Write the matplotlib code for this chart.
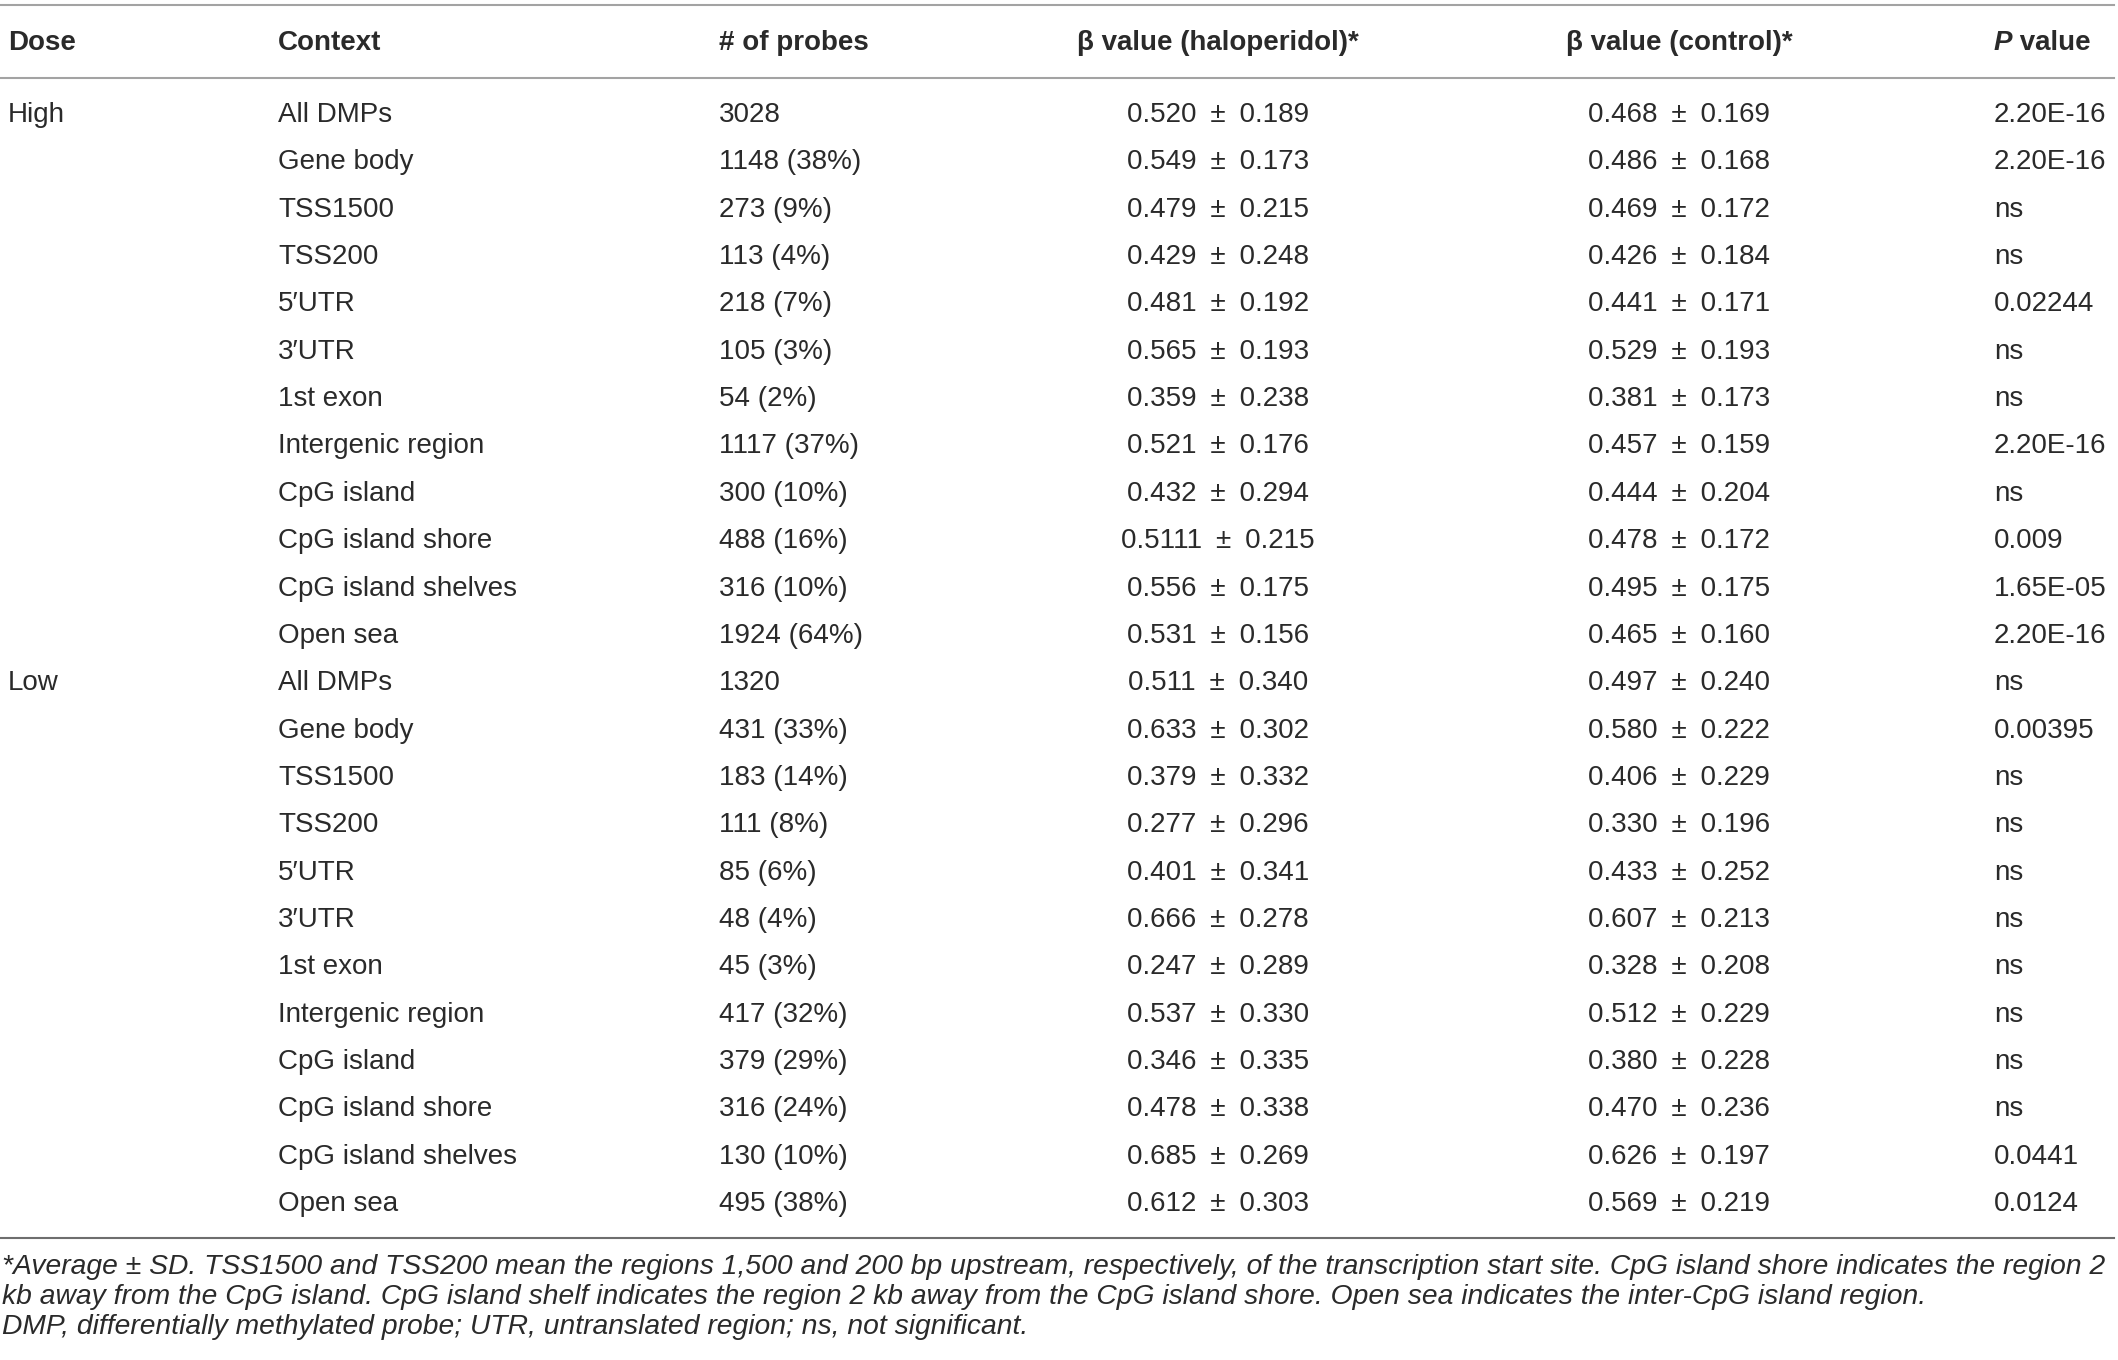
import matplotlib
matplotlib.use("Agg")
import matplotlib.pyplot as plt

# ---------------- data ----------------
headers = ["Dose", "Context", "# of probes", "\u03b2 value (haloperidol)*", "\u03b2 value (control)*"]
doses = ["High", "Low"]
contexts = ["All DMPs", "Gene body", "TSS1500", "TSS200", "5\u2032UTR", "3\u2032UTR", "1st exon",
            "Intergenic region", "CpG island", "CpG island shore", "CpG island shelves", "Open sea"]
probes_high = ["3028", "1148 (38%)", "273 (9%)", "113 (4%)", "218 (7%)", "105 (3%)", "54 (2%)",
               "1117 (37%)", "300 (10%)", "488 (16%)", "316 (10%)", "1924 (64%)"]
probes_low = ["1320", "431 (33%)", "183 (14%)", "111 (8%)", "85 (6%)", "48 (4%)", "45 (3%)",
              "417 (32%)", "379 (29%)", "316 (24%)", "130 (10%)", "495 (38%)"]
halo_high = ["0.520", "0.549", "0.479", "0.429", "0.481", "0.565", "0.359", "0.521", "0.432", "0.5111", "0.556", "0.531"]
halo_high_sd = ["0.189", "0.173", "0.215", "0.248", "0.192", "0.193", "0.238", "0.176", "0.294", "0.215", "0.175", "0.156"]
ctrl_high = ["0.468", "0.486", "0.469", "0.426", "0.441", "0.529", "0.381", "0.457", "0.444", "0.478", "0.495", "0.465"]
ctrl_high_sd = ["0.169", "0.168", "0.172", "0.184", "0.171", "0.193", "0.173", "0.159", "0.204", "0.172", "0.175", "0.160"]
halo_low = ["0.511", "0.633", "0.379", "0.277", "0.401", "0.666", "0.247", "0.537", "0.346", "0.478", "0.685", "0.612"]
halo_low_sd = ["0.340", "0.302", "0.332", "0.296", "0.341", "0.278", "0.289", "0.330", "0.335", "0.338", "0.269", "0.303"]
ctrl_low = ["0.497", "0.580", "0.406", "0.330", "0.433", "0.607", "0.328", "0.512", "0.380", "0.470", "0.626", "0.569"]
ctrl_low_sd = ["0.240", "0.222", "0.229", "0.196", "0.252", "0.213", "0.208", "0.229", "0.228", "0.236", "0.197", "0.219"]
p_high = ["2.20E-16", "2.20E-16", "ns", "ns", "0.02244", "ns", "ns", "2.20E-16", "ns", "0.009", "1.65E-05", "2.20E-16"]
p_low = ["ns", "0.00395", "ns", "ns", "ns", "ns", "ns", "ns", "ns", "ns", "0.0441", "0.0124"]
footnotes = [
    "*Average \u00b1 SD. TSS1500 and TSS200 mean the regions 1,500 and 200 bp upstream, respectively, "
    "of the transcription start site. CpG island shore indicates the region 2",
    "kb away from the CpG island. CpG island shelf indicates the region 2 kb away from the CpG island shore. "
    "Open sea indicates the inter-CpG island region.",
    "DMP, differentially methylated probe; UTR, untranslated region; ns, not significant.",
]
# --------------------------------------

W, H = 2118, 1360
FONT = "Liberation Sans"
TXT = "#2a2a2a"
FS = 20
PM = "\u2002\u00b1\u2002"   # wider gaps round the plus-minus, as in the source

fig = plt.figure(figsize=(W / 100, H / 100), dpi=100)
ax = fig.add_axes([0, 0, 1, 1])
ax.set_xlim(0, W); ax.set_ylim(H, 0); ax.axis("off")

x_dose, x_ctx, x_probe, x_halo, x_ctrl, x_p = 8, 278, 719, 1218, 1679, 1994
y_head, y_row0, dy = 43, 115, 47.35

# rules
ax.plot([0, 2114], [5, 5], color="#a3a3a3", lw=1.5)
ax.plot([0, 2114], [78, 78], color="#a3a3a3", lw=1.5)
ax.plot([0, 2114], [1238, 1238], color="#6e6e6e", lw=1.5)

# header
kw = dict(family=FONT, fontsize=FS, color=TXT, va="center", fontweight="bold")
ax.text(x_dose, y_head, headers[0], ha="left", **kw)
ax.text(x_ctx, y_head, headers[1], ha="left", **kw)
ax.text(x_probe, y_head, headers[2], ha="left", **kw)
ax.text(x_halo, y_head, headers[3], ha="center", **kw)
ax.text(x_ctrl, y_head, headers[4], ha="center", **kw)
tp = ax.text(x_p, y_head, "P", ha="left", fontstyle="italic", **kw)
fig.canvas.draw()
bb = tp.get_window_extent(fig.canvas.get_renderer())
ax.text(x_p + bb.width, y_head, " value", ha="left", **kw)

# body
kw = dict(family=FONT, fontsize=FS, color=TXT, va="center")
groups = [
    (doses[0], probes_high, halo_high, halo_high_sd, ctrl_high, ctrl_high_sd, p_high),
    (doses[1], probes_low, halo_low, halo_low_sd, ctrl_low, ctrl_low_sd, p_low),
]
row = 0
for dose, probes, hm, hs, cm, cs, pv in groups:
    ax.text(x_dose, y_row0 + row * dy, dose, ha="left", **kw)
    for i in range(len(contexts)):
        y = y_row0 + row * dy
        ax.text(x_ctx, y, contexts[i], ha="left", **kw)
        ax.text(x_probe, y, probes[i], ha="left", **kw)
        ax.text(x_halo, y, hm[i] + PM + hs[i], ha="center", **kw)
        ax.text(x_ctrl, y, cm[i] + PM + cs[i], ha="center", **kw)
        ax.text(x_p, y, pv[i], ha="left", **kw)
        row += 1

# footnotes
for j, line in enumerate(footnotes):
    ax.text(2, 1267 + j * 30, line, ha="left", va="center", family=FONT,
            fontsize=20.3, fontstyle="italic", color=TXT)

fig.savefig("out.png", dpi=100, facecolor="white")
